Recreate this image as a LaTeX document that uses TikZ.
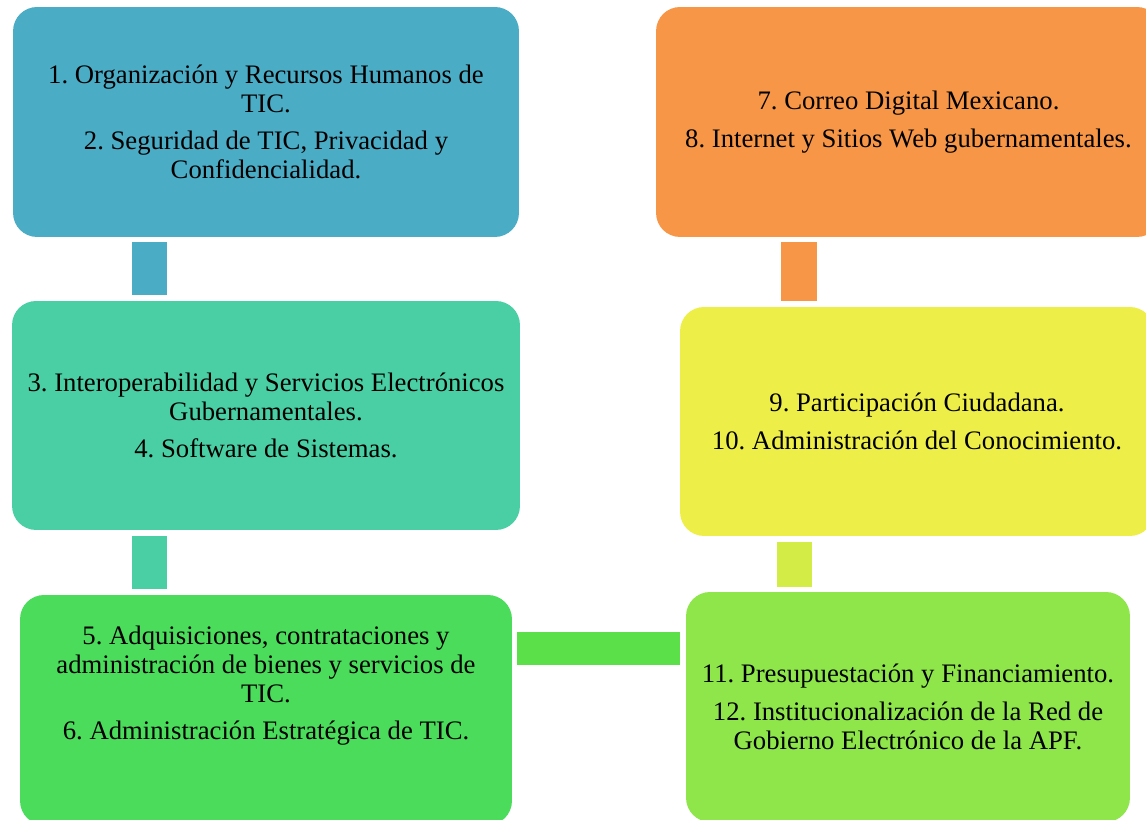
\documentclass[tikz,border=0pt]{standalone}
\usepackage{fontspec}
\setmainfont{Liberation Serif}
\usepackage{tikz}
\usetikzlibrary{positioning,calc}

\definecolor{azul}{HTML}{4BACC6}
\definecolor{turquesa}{HTML}{4ACFA4}
\definecolor{verde}{HTML}{4ADC5A}
\definecolor{verdeclaro}{HTML}{8EE64B}
\definecolor{amarillo}{HTML}{EEEE48}
\definecolor{naranja}{HTML}{F79646}
\definecolor{verdeenlace}{HTML}{5BE04A}
\definecolor{limaenlace}{HTML}{D3EC46}

\begin{document}
\frenchspacing
\begin{tikzpicture}[x=0.02cm, y=0.02cm,
	caja/.style={shape=rectangle, rounded corners=0.48cm, minimum height=4.6cm, inner sep=0pt},
	texto/.style={align=center, font=\fontsize{15.2}{16.4}\selectfont},
	enlace/.style={line width=0.7cm}]
	\clip (0,0) rectangle (1146,820);

	% left column, top to bottom
	\node (c1) at (266,698) [caja, fill=azul, minimum width=10.12cm] {};
	\node (c3) at (266,404.5) [caja, fill=turquesa, minimum width=10.16cm, minimum height=4.58cm] {};
	\node (c5) at (266,110) [caja, fill=verde, minimum width=9.84cm] {};

	% right column, bottom to top
	\node (c11) at (908,113) [caja, fill=verdeclaro, minimum width=8.88cm] {};
	\node (c9) at (917,398.5) [caja, fill=amarillo, minimum width=9.48cm, minimum height=4.58cm] {};
	\node (c7) at (908.5,698) [caja, fill=naranja, minimum width=10.1cm] {};

	\node (t1) at (c1) [texto] {1. Organización y Recursos Humanos de\\TIC.\\[5pt]2. Seguridad de TIC, Privacidad y\\Confidencialidad.};
	\node (t3) at (c3) [texto] {3. Interoperabilidad y Servicios Electrónicos\\Gubernamentales.\\[5pt]4. Software de Sistemas.};
	\node (t5) at ([yshift=0.48cm]c5.center) [texto] {5. Adquisiciones, contrataciones y\\administración de bienes y servicios de\\TIC.\\[5pt]6. Administración Estratégica de TIC.};
	\node (t11) at (c11) [texto] {11. Presupuestación y Financiamiento.\\[5pt]12. Institucionalización de la Red de\\Gobierno Electrónico de la APF.};
	\node (t9) at (c9) [texto] {9. Participación Ciudadana.\\[5pt]10. Administración del Conocimiento.};
	\node (t7) at (c7) [texto] {7. Correo Digital Mexicano.\\[5pt]8. Internet y Sitios Web gubernamentales.};

	\draw [enlace, azul] ([shift={(-116.5,-5)}]c1.south) -- ([shift={(-116.5,6)}]c3.north);
	\draw [enlace, turquesa] ([shift={(-116.5,-6)}]c3.south) -- ([shift={(-116.5,6)}]c5.north);
	\draw [enlace, verdeenlace, line width=0.66cm] ([shift={(5,61.5)}]c5.east) -- ([shift={(-6,58.5)}]c11.west);
	\draw [enlace, limaenlace] ([shift={(-113.5,5)}]c11.north) -- ([shift={(-122.5,-6)}]c9.south);
	\draw [enlace, naranja, line width=0.72cm] ([shift={(-118,6)}]c9.north) -- ([shift={(-109.5,-5)}]c7.south);
\end{tikzpicture}
\end{document}
